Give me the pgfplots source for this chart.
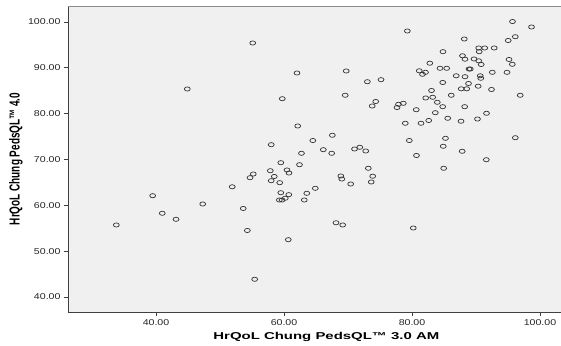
\documentclass[border=0pt]{standalone}
\usepackage{fontspec}
\setmainfont{Liberation Sans}
\newfontfamily\tickfont[FakeStretch=1.25]{Liberation Sans}
\newfontfamily\labfont[FakeStretch=1.5]{Liberation Sans}
\usepackage{pgfplots}
\pgfplotsset{compat=1.18}
\definecolor{bg}{HTML}{F0F0F0}
\begin{document}
\begin{tikzpicture}
\begin{axis}[
 name=ax,
 scale only axis, width=493bp, height=306bp,
 xmin=26.25, xmax=103.28, ymin=36.72, ymax=103.49,
 axis x line*=bottom, axis y line*=left,
 axis line style={draw=black!75, line width=0.8bp, -},
 axis background/.style={fill=bg},
 xtick={40,60,80,100}, xticklabels={40.00,60.00,80.00,100.00},
 ytick={40,50,60,70,80,90,100}, yticklabels={40.00,50.00,60.00,70.00,80.00,90.00,100.00},
 tick align=outside, major tick length=4bp,
 tick style={draw=black!75, line width=0.7bp},
 ticklabel style={font=\tickfont\fontsize{8.5}{10}\selectfont, text=black!85},
 xlabel={HrQoL Chung PedsQL™ 3.0 AM},
 xlabel style={font=\labfont\fontsize{10}{12}\selectfont\bfseries, at={(axis description cs:0.524,0)}, anchor=center, yshift=-25bp},
 ylabel={HrQoL Chung PedsQL™ 4.0},
 ylabel style={font=\fontsize{10}{12}\selectfont\bfseries, at={(axis description cs:-0.1055,0.5)}, anchor=center, yscale=1.45},
 clip=false,
]
\draw[black!45, line width=0.7bp] (rel axis cs:0,1) -- (rel axis cs:1,1);
\addplot[only marks, mark=o, mark size=2.1bp, mark options={xscale=1.4, draw=black!80, line width=0.7bp}] table {
x y
95.70 100.1
98.67 98.91
79.27 98.04
88.17 96.29
95.03 95.96
96.14 96.79
90.42 94.33
91.36 94.33
92.84 94.33
90.50 93.52
84.84 93.52
87.89 92.63
88.28 91.88
89.69 91.93
90.42 91.53
90.81 90.73
95.16 91.82
95.67 90.77
82.78 91.01
81.13 89.35
82.11 89.02
81.64 88.59
84.38 89.90
85.42 89.90
88.91 89.74
89.10 89.74
92.55 89.02
94.84 89.02
69.72 89.31
73.02 86.97
75.16 87.41
62.03 88.87
86.91 88.26
88.28 88.06
90.66 88.26
90.75 87.72
84.80 86.80
88.83 86.58
87.69 85.42
88.55 85.42
90.34 85.99
92.42 85.27
83.05 85.05
82.14 83.42
83.23 83.57
83.95 82.48
84.80 81.52
86.13 84.01
96.91 84.01
69.56 84.01
74.33 82.65
73.78 81.67
77.66 81.34
77.89 82.04
78.64 82.26
80.66 80.86
88.23 81.52
83.64 80.21
91.64 80.08
85.58 78.99
90.23 78.83
87.66 78.35
82.61 78.51
81.41 77.90
78.95 77.90
62.14 77.31
67.55 75.28
64.50 74.14
66.14 72.14
67.45 71.35
62.73 71.35
71.02 72.29
71.84 72.66
72.77 71.85
79.58 74.14
85.23 74.62
84.88 72.88
87.84 71.79
96.14 74.75
80.70 70.87
91.61 69.95
62.42 68.86
73.17 68.08
84.95 68.08
68.88 66.40
69.03 65.74
73.86 66.35
73.63 65.09
70.42 64.65
64.89 63.71
63.56 62.62
63.17 61.16
68.13 56.19
69.17 55.71
80.20 55.05
55.11 95.42
44.89 85.38
59.73 83.26
58.00 73.23
59.50 69.30
57.86 67.55
60.47 67.71
60.78 67.05
58.48 66.29
55.20 66.83
54.69 66.03
58.00 65.37
59.33 64.94
51.91 64.04
39.48 62.10
59.50 62.75
60.75 62.32
59.27 61.16
59.69 61.16
60.20 61.55
47.30 60.29
40.98 58.26
43.13 56.95
53.63 59.31
33.80 55.71
54.27 54.51
60.67 52.50
55.42 43.86
};
\end{axis}
\pgfresetboundingbox
\useasboundingbox ([shift={(-68bp,-34bp)}]ax.south west) rectangle ([shift={(0bp,6bp)}]ax.north east);
\end{tikzpicture}
\end{document}
